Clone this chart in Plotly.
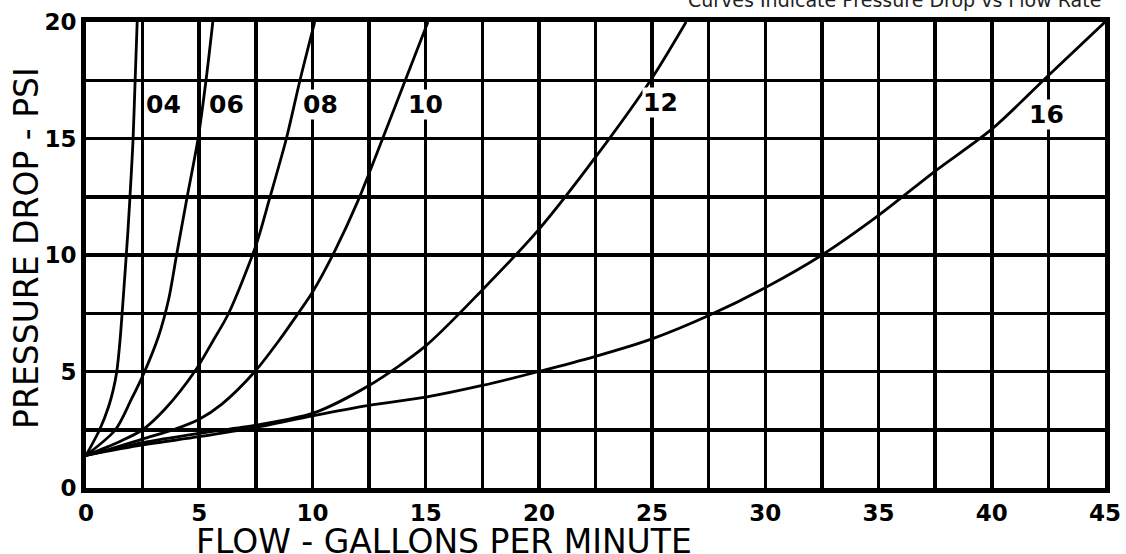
import plotly.graph_objects as go

# ---- data ----
x_04 = [0, 0.6, 1.0, 1.2, 1.36, 1.5, 1.64, 1.85, 2.0, 2.08, 2.17, 2.26]
y_04 = [1.4, 2.5, 3.5, 4.2, 5.0, 6.3, 8.1, 11.0, 13.5, 15.0, 17.5, 20.0]

x_06 = [0, 1.3, 2.0, 2.5, 3.2, 3.65, 4.0, 4.45, 4.95, 5.3, 5.6]
y_06 = [1.4, 2.5, 3.8, 4.8, 6.5, 8.1, 10.0, 12.4, 15.0, 17.5, 20.0]

x_08 = [0, 1.5, 2.5, 3.5, 4.8, 5.6, 6.3, 7.5, 8.1, 8.85, 9.45, 10.1]
y_08 = [1.4, 2.0, 2.5, 3.4, 5.0, 6.3, 7.5, 10.4, 12.4, 15.0, 17.5, 20.0]

x_10 = [0, 1.0, 2.5, 4.0, 5.0, 6.0, 7.46, 8.5, 9.3, 10.0, 11.0, 12.0, 13.1, 14.1, 15.1]
y_10 = [1.4, 1.65, 2.1, 2.55, 2.95, 3.6, 5.0, 6.3, 7.4, 8.4, 10.2, 12.3, 15.0, 17.5, 20.0]

x_12 = [0, 2.5, 5.0, 7.5, 10.0, 12.5, 15.0, 17.5, 20.0, 22.5, 25.0, 26.5]
y_12 = [1.4, 1.95, 2.35, 2.7, 3.2, 4.4, 6.1, 8.5, 11.1, 14.2, 17.6, 20.0]

x_16 = [0, 2.5, 5.0, 7.5, 10.0, 12.5, 15.0, 17.5, 20.0, 22.5, 25.0, 27.5, 30.0,
        32.5, 35.0, 37.5, 40.0, 42.5, 45.0]
y_16 = [1.4, 1.85, 2.2, 2.6, 3.1, 3.55, 3.9, 4.4, 5.0, 5.65, 6.4, 7.4, 8.6,
        10.0, 11.7, 13.6, 15.4, 17.7, 20.0]

curve_names = ["04", "06", "08", "10", "12", "16"]
label_x = [3.42, 6.2, 10.35, 15.0, 25.35, 42.4]
label_y = [16.45, 16.45, 16.45, 16.45, 16.55, 16.05]

x_ticks = [0, 5, 10, 15, 20, 25, 30, 35, 40, 45]
y_ticks = [0, 5, 10, 15, 20]

x_title = "FLOW - GALLONS PER MINUTE"
y_title = "PRESSURE DROP - PSI"
note = "Curves Indicate Pressure Drop vs Flow Rate"

FONT = "DejaVu Sans, Verdana, sans-serif"

fig = go.Figure()
series = [(x_04, y_04), (x_06, y_06), (x_08, y_08), (x_10, y_10), (x_12, y_12), (x_16, y_16)]
for name, (xs, ys) in zip(curve_names, series):
    fig.add_trace(go.Scatter(
        x=xs, y=ys, mode="lines", name=name,
        line=dict(color="black", width=2.8, shape="spline", smoothing=0.8),
        showlegend=False, cliponaxis=True,
    ))

for name, lx, ly in zip(curve_names, label_x, label_y):
    fig.add_annotation(
        x=lx, y=ly, xref="x", yref="y", text=name, showarrow=False,
        font=dict(family=FONT, size=25, color="black", weight="bold"),
        bgcolor="white", borderpad=0,
    )

fig.add_annotation(
    x=0.351, y=-0.114, xref="paper", yref="paper", text=x_title, showarrow=False,
    xanchor="center", yanchor="middle",
    font=dict(family=FONT, size=33, color="black"),
)
fig.add_annotation(
    x=-0.059, y=0.515, xref="paper", yref="paper", text=y_title, showarrow=False,
    textangle=-90, xanchor="center", yanchor="middle",
    font=dict(family=FONT, size=33, color="black"),
)
fig.add_annotation(
    x=0.998, y=1.047, xref="paper", yref="paper", text=note, showarrow=False,
    xanchor="right", yanchor="middle",
    font=dict(family=FONT, size=19, color="#222222"),
)

axis_common = dict(
    showgrid=True, gridcolor="black", gridwidth=3.5,
    showline=True, linecolor="black", linewidth=5, mirror=True,
    zeroline=False, ticks="", automargin=False,
    tickfont=dict(family=FONT, size=23, color="black", weight="bold"),
    minor=dict(showgrid=True, gridcolor="black", gridwidth=3.5),
)

fig.update_xaxes(range=[0, 45], tickvals=x_ticks, ticklabelstandoff=0, **axis_common)
fig.update_xaxes(minor_dtick=2.5, minor_tick0=0)
fig.update_yaxes(range=[0, 20], tickvals=y_ticks, ticklabelstandoff=0, **axis_common)
fig.update_yaxes(minor_dtick=2.5, minor_tick0=0)

fig.update_layout(
    width=1126, height=554,
    margin=dict(l=86, r=21, t=22, b=66),
    paper_bgcolor="white", plot_bgcolor="white",
)

fig.write_html(
    "out.html",
    config={"displayModeBar": False, "staticPlot": True},
    post_script="document.body.style.margin='0';document.body.style.overflow='hidden';",
)
